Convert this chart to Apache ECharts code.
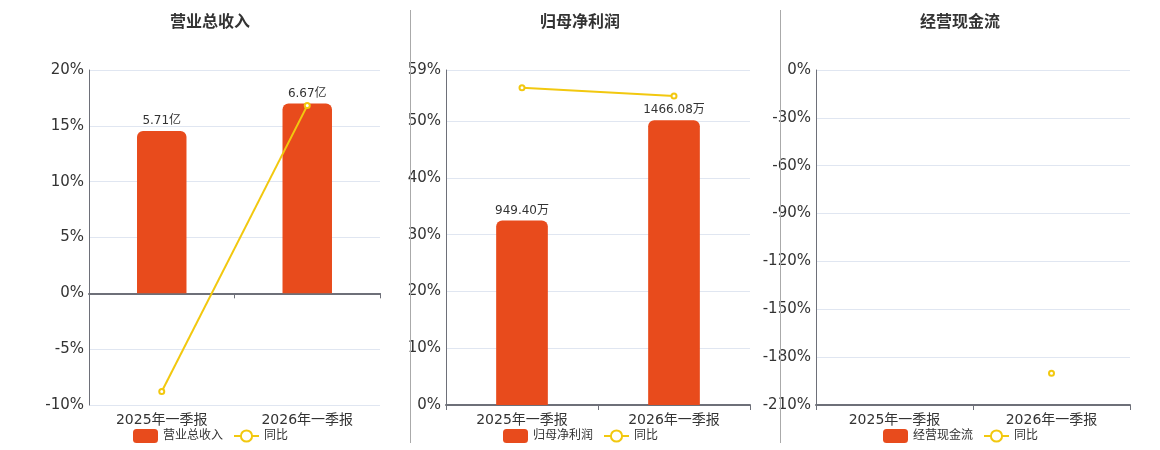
<!DOCTYPE html>
<html>
<head>
<meta charset="utf-8">
<script src="https://cdn.jsdelivr.net/npm/echarts@6/dist/echarts.min.js"></script>
<style>
  html, body { margin: 0; padding: 0; background: #fff; }
  #chart { width: 1160px; height: 450px; }
</style>
</head>
<body>
<div id="chart"></div>
<script>
const categories = ['2025年一季报', '2026年一季报'];

// 营业总收入（亿）/ 同比（%）
const revenue = [5.71, 6.67];
const revenueYoy = [-8.79, 16.81];

// 归母净利润（万）/ 同比（%）
const netProfit = [949.4, 1466.08];
const netProfitYoy = [55.88, 54.42];

// 经营现金流：无柱，只有 2026 的同比点
const cashFlow = [null, null];
const cashFlowYoy = [null, -190.1];

const titles = ['营业总收入', '归母净利润', '经营现金流'];
const percentTicks = [
  { min: -10, max: 20, interval: 5 },
  { min: 0, max: 59, interval: 10 },
  { min: -210, max: 0, interval: 30 },
];
// 柱子用隐藏轴，最大柱约占正向范围的 85%
const barAxes = [
  { min: -3.925, max: 7.85 },
  { min: 0, max: 1724.8 },
  { min: 0, max: 1 },
];

const barColor = '#e84b1c';
const lineColor = '#f2c80f';
const fontFamily = "'DejaVu Sans', 'Noto Sans CJK SC', sans-serif";

const grids = [
  { left: 89, right: 780, top: 70, bottom: 45 },
  { left: 446, right: 410, top: 70, bottom: 45 },
  { left: 816, right: 30, top: 70, bottom: 45 },
];
const centers = [210, 580, 960];

const panels = [
  { bars: revenue, yoy: revenueYoy, unit: '亿' },
  { bars: netProfit, yoy: netProfitYoy, unit: '万' },
  { bars: cashFlow, yoy: cashFlowYoy, unit: '万' },
];

const xAxis = [];
const yAxis = [];
const series = [];
const title = [];
const legend = [];

panels.forEach((p, i) => {
  title.push({
    text: titles[i],
    left: centers[i],
    top: 15,
    padding: 0,
    textAlign: 'center',
    textStyle: { fontSize: 16, fontWeight: 'bold', color: '#333', fontFamily },
  });
  legend.push({
    data: [titles[i], '同比'],
    left: centers[i] - 82,
    top: 424,
    itemWidth: 25,
    itemHeight: 14,
    itemGap: 10,
    textStyle: { fontSize: 12, color: '#333', fontFamily },
  });
  // 底部分类标签
  xAxis.push({
    type: 'category',
    gridIndex: i,
    data: categories,
    axisLine: { onZero: false, show: false },
    axisTick: { show: false },
    axisLabel: { fontSize: 14, color: '#333', margin: 8, fontFamily },
  });
  // 轴线（在 0 处）
  xAxis.push({
    type: 'category',
    gridIndex: i,
    data: categories,
    position: 'bottom',
    axisLine: {
      onZero: i !== 2,
      onZeroAxisIndex: i * 2,
      lineStyle: { color: '#6e7079', width: 2 },
    },
    axisTick: { show: true, length: 5, lineStyle: { color: '#6e7079' } },
    axisLabel: { show: false },
  });
  const t = percentTicks[i];
  yAxis.push({
    type: 'value',
    gridIndex: i,
    min: t.min,
    max: t.max,
    interval: t.interval,
    axisLine: { show: true, lineStyle: { color: '#6e7079' } },
    axisLabel: { formatter: '{value}%', fontSize: 15, color: '#333', margin: 5, fontFamily },
    splitLine: { lineStyle: { color: '#e0e6f1' } },
  });
  yAxis.push({
    type: 'value',
    gridIndex: i,
    min: barAxes[i].min,
    max: barAxes[i].max,
    show: false,
    splitLine: { show: false },
  });
  series.push({
    name: titles[i],
    type: 'bar',
    xAxisIndex: i * 2,
    yAxisIndex: i * 2 + 1,
    data: p.bars,
    barWidth: '34%',
    itemStyle: { color: barColor, borderRadius: [6, 6, 0, 0] },
    label: {
      show: true,
      position: 'top',
      distance: 4,
      fontSize: 12,
      color: '#333',
      fontFamily,
      formatter: (d) => d.value.toFixed(2) + p.unit,
    },
  });
  series.push({
    name: '同比',
    type: 'line',
    xAxisIndex: i * 2,
    yAxisIndex: i * 2,
    data: p.yoy,
    symbol: 'emptyCircle',
    symbolSize: 5,
    lineStyle: { color: lineColor, width: 2 },
    itemStyle: { color: lineColor, borderWidth: 2 },
    z: 5,
  });
});

const chart = echarts.init(document.getElementById('chart'));
chart.setOption({
  animation: false,
  textStyle: { fontFamily },
  title,
  legend,
  grid: grids,
  xAxis,
  yAxis,
  series,
  graphic: [410, 780].map((x) => ({
    type: 'line',
    shape: { x1: x + 0.5, y1: 10, x2: x + 0.5, y2: 443 },
    style: { stroke: '#aaa', lineWidth: 1 },
    z: 100,
  })),
});
</script>
</body>
</html>
